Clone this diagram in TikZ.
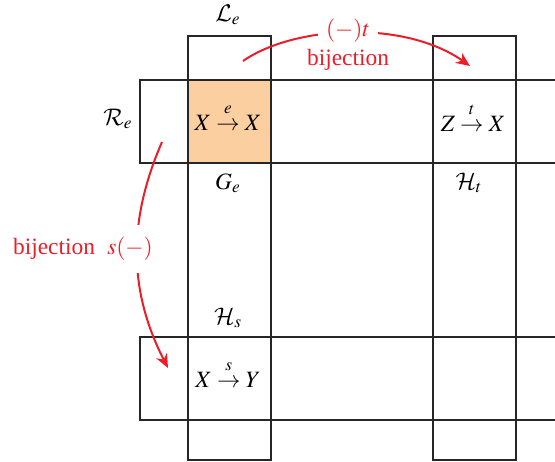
\documentclass[tikz,border=0pt]{standalone}
\usepackage{mathptmx}
\DeclareMathAlphabet{\mathcal}{OMS}{cmsy}{m}{n}
\usepackage{fontspec}
\setmainfont{Liberation Serif}
\usetikzlibrary{arrows.meta}
\definecolor{bred}{RGB}{235,30,40}
\definecolor{cellorange}{RGB}{251,207,160}
\newcommand{\labto}[1]{\stackrel{\raisebox{2pt}{$\scriptstyle #1$}}{\to}}
\begin{document}
\begin{tikzpicture}[x=0.5pt,y=-0.5pt,
  grid/.style={draw=black!85,line width=1pt},
  lab/.style={font=\fontsize{11.7}{14}\selectfont,inner sep=1pt},
  redlab/.style={lab,text=bred},
  bij/.style={draw=bred,line width=1pt,-{Stealth[length=7pt,width=6pt]}}]
\useasboundingbox (0,0) rectangle (555,461);
% orange cell
\fill[cellorange] (188,80) rectangle (271,163);
% columns
\draw[grid] (188,36) rectangle (271,460);
\draw[grid] (433,36) rectangle (516,460);
% rows (open to the right)
\draw[grid] (555,80) -- (140,80) -- (140,163) -- (555,163);
\draw[grid] (555,337) -- (140,337) -- (140,420) -- (555,420);
% labels
\node[lab] (Le) at (228,15) {$\mathcal{L}_e$};
\node[lab] (Re) at (118,119) {$\mathcal{R}_e$};
\node[lab] (e) at (228,117) {$X \labto{e} X$};
\node[lab] (Ge) at (228,183) {$G_e$};
\node[lab] (t) at (473,117) {$Z \labto{t} X$};
\node[lab] (Ht) at (469,183) {$\mathcal{H}_t$};
\node[lab] (Hs) at (228,318) {$\mathcal{H}_s$};
\node[lab] (s) at (228,374) {$X \labto{s} Y$};
% red arcs
\coordinate (a1) at (243,61);
\coordinate (a2) at (470,66);
\coordinate (b1) at (162,142);
\coordinate (b2) at (168,368);
\draw[bij] (a1) .. controls (295,25) and (405,20) .. (a2);
\node[redlab,fill=white,inner xsep=4pt,inner ysep=1pt] (tl) at (348,31) {$(-)t$};
\node[redlab] (tb) at (348,60) {bijection};
\draw[bij] (b1) .. controls (128,220) and (128,290) .. (b2);
\node[redlab,fill=white,inner xsep=2pt,inner ysep=6pt] (sl) at (130,249) {$s(-)$};
\node[redlab] (sb) at (54,249) {bijection};
\end{tikzpicture}
\end{document}
